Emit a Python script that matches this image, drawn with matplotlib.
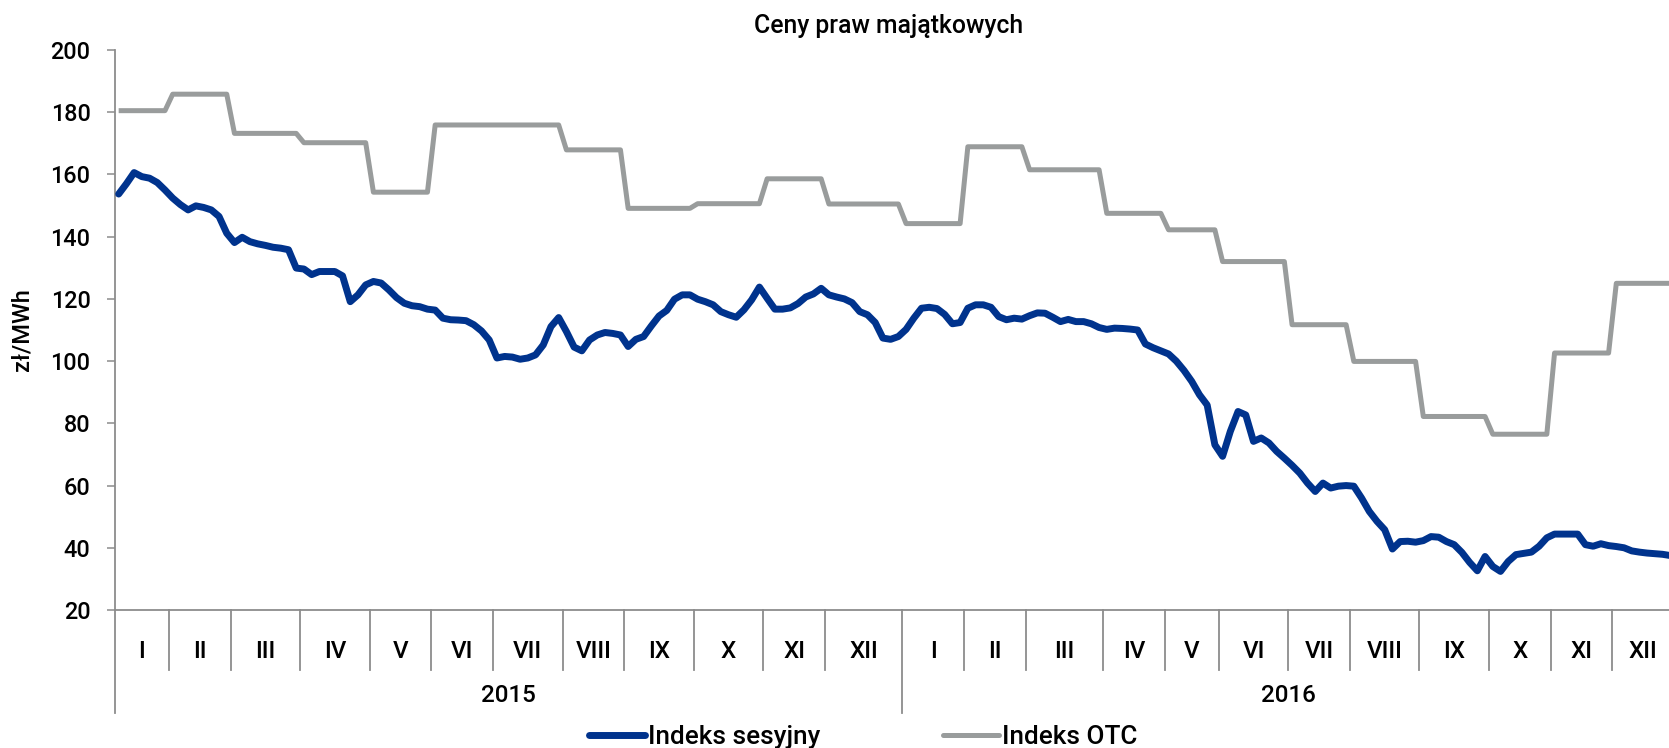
import numpy as np
import matplotlib
matplotlib.use("Agg")
import matplotlib.pyplot as plt
from matplotlib.transforms import blended_transform_factory

# ---------------- data ----------------
months = ["I", "II", "III", "IV", "V", "VI", "VII", "VIII", "IX", "X", "XI", "XII"]
years = ["2015", "2016"]
points_per_month_2015 = [7, 8, 9, 9, 8, 8, 9, 8, 9, 9, 8, 10]
points_per_month_2016 = [8, 8, 10, 8, 7, 9, 8, 9, 9, 8, 8, 8]

# monthly OTC index (zł/MWh)
otc_2015 = [180.5, 185.8, 173.2, 170.2, 154.3, 175.9, 175.9, 167.9, 149.1, 150.6, 158.6, 150.5]
otc_2016 = [144.2, 168.9, 161.5, 147.5, 142.2, 132.0, 111.7, 99.9, 82.2, 76.5, 102.6, 125.0]

# session index (zł/MWh), one value per quotation
sesyjny = [
    153.7, 157.0, 160.6, 159.3, 158.8, 157.4, 155.0, 152.4, 150.3, 148.6,
    149.9, 149.4, 148.6, 146.5, 141.1, 138.1, 139.8, 138.4, 137.7, 137.2,
    136.6, 136.3, 135.8, 129.9, 129.6, 127.8, 128.8, 128.8, 128.8, 127.4,
    119.1, 121.3, 124.5, 125.6, 125.1, 122.9, 120.4, 118.6, 117.8, 117.5,
    116.7, 116.4, 113.8, 113.3, 113.2, 113.0, 111.7, 109.7, 106.8, 101.0,
    101.5, 101.3, 100.6, 101.0, 102.0, 105.2, 111.1, 114.0, 109.5, 104.5,
    103.3, 106.8, 108.4, 109.2, 108.9, 108.4, 104.7, 107.0, 107.9, 111.3,
    114.5, 116.3, 119.9, 121.3, 121.3, 119.9, 119.1, 118.1, 115.9, 114.9,
    114.1, 116.5, 119.7, 123.8, 120.2, 116.7, 116.7, 117.1, 118.5, 120.6,
    121.6, 123.4, 121.3, 120.6, 120.0, 118.8, 115.9, 114.9, 112.4, 107.4,
    107.0, 107.9, 110.2, 113.8, 117.0, 117.3, 116.9, 115.0, 112.0, 112.4,
    117.0, 118.1, 118.1, 117.3, 114.3, 113.3, 113.8, 113.5, 114.6, 115.5,
    115.4, 114.1, 112.7, 113.4, 112.7, 112.7, 112.0, 110.8, 110.2, 110.6,
    110.5, 110.3, 110.0, 105.5, 104.3, 103.3, 102.3, 100.0, 97.0, 93.5,
    89.2, 85.9, 73.1, 69.4, 77.4, 83.8, 82.7, 74.2, 75.3, 73.7,
    71.0, 68.8, 66.5, 64.0, 60.8, 58.1, 60.8, 59.2, 59.8, 60.0,
    59.8, 56.0, 51.7, 48.5, 45.8, 39.6, 42.0, 42.1, 41.8, 42.3,
    43.6, 43.4, 42.0, 41.0, 38.5, 35.3, 32.6, 37.2, 34.0, 32.4,
    35.6, 37.8, 38.2, 38.6, 40.5, 43.2, 44.4, 44.4, 44.4, 44.4,
    41.0, 40.5, 41.3, 40.7, 40.4, 40.0, 39.0, 38.6, 38.3, 38.1,
    37.9, 37.5,
]

title = "Ceny praw majątkowych"
ylabel = "zł/MWh"
label_ses = "Indeks sesyjny"
label_otc = "Indeks OTC"

# ---------------- style ----------------
BLUE = "#00338D"
GREY = "#999C9C"
AXC = "#8C8C8C"
FW = 'medium'

plt.rcParams['font.family'] = ['Roboto', 'DejaVu Sans']
plt.rcParams['font.weight'] = FW

W, H = 1669, 748
fig = plt.figure(figsize=(W / 100, H / 100), dpi=100)
ax_left, ax_right, ax_top, ax_bot = 114.8, 1674.2, 50.0, 610.0
ax = fig.add_axes([ax_left / W, 1 - ax_bot / H, (ax_right - ax_left) / W, (ax_bot - ax_top) / H])

counts = points_per_month_2015 + points_per_month_2016
otc = np.repeat(otc_2015 + otc_2016, counts)
x = np.arange(len(sesyjny))

l_otc, = ax.plot(x, otc, color=GREY, lw=3.6, solid_joinstyle='round',
                 solid_capstyle='butt', zorder=2, clip_on=False)
l_ses, = ax.plot(x, sesyjny, color=BLUE, lw=5.0, solid_joinstyle='round',
                 solid_capstyle='round', zorder=3, clip_on=False)

ax.set_xlim(-0.5, len(sesyjny) - 0.5)
ax.set_ylim(20, 200)
ax.set_yticks(np.arange(20, 201, 20))
ax.set_xticks([])

for s in ['top', 'right']:
    ax.spines[s].set_visible(False)
for s in ['left', 'bottom']:
    ax.spines[s].set_color(AXC)
    ax.spines[s].set_linewidth(1.3)
ax.tick_params(axis='y', length=5.5, width=1.1, color=AXC, pad=12,
               labelsize=16.8, labelcolor='black')
for lab in ax.get_yticklabels():
    lab.set_fontweight(FW)

# multi-level category axis
trans = blended_transform_factory(ax.transData, ax.transAxes)
bounds = np.concatenate([[0], np.cumsum(counts)]) - 0.5
month_depth = -60 / (ax_bot - ax_top)
year_depth = -103 / (ax_bot - ax_top)
ax.plot([bounds[0], bounds[0]], [0, year_depth], color=AXC, lw=1.3,
        transform=trans, clip_on=False)
for k, b in enumerate(bounds[1:-1], start=1):
    depth = year_depth if k == 12 else month_depth
    ax.plot([b, b], [0, depth], color=AXC, lw=1.3, transform=trans, clip_on=False)

month_y = -41.7 / (ax_bot - ax_top)
year_y = -85 / (ax_bot - ax_top)
for k in range(len(counts)):
    cx = (bounds[k] + bounds[k + 1]) / 2
    ax.text(cx, month_y, months[k % 12], transform=trans, ha='center',
            va='center', fontsize=17.4, fontweight=FW)
for j, yr in enumerate(years):
    cx = (bounds[12 * j] + bounds[12 * (j + 1)]) / 2
    ax.text(cx, year_y, yr, transform=trans, ha='center', va='center',
            fontsize=17.4, fontweight=FW)

# title & y label
fig.text(889 / W, 1 - 33 / H, title, ha='center', va='baseline',
         fontsize=17.8, fontweight=FW)
fig.text(22 / W, 1 - 330 / H, ylabel, rotation=90, ha='center', va='center',
         fontsize=17, fontweight=FW)

# legend
leg = ax.legend([l_ses, l_otc], [label_ses, label_otc], loc='center',
                bbox_to_anchor=(863 / W, 1 - 737 / H), bbox_transform=fig.transFigure,
                ncol=2, frameon=False, handlelength=2.16, handletextpad=0.1,
                columnspacing=4.7, prop={'size': 18.8, 'weight': FW},
                borderpad=0, borderaxespad=0)
for h in leg.legend_handles:
    h.set_solid_capstyle('round')

fig.savefig("out.png", dpi=100)
